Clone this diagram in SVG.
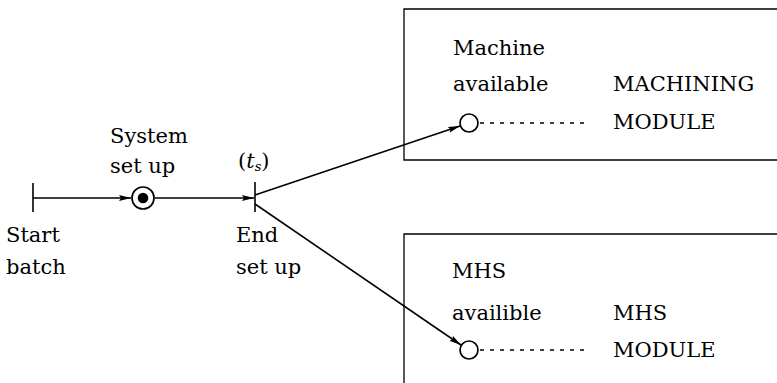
<svg xmlns="http://www.w3.org/2000/svg" width="777" height="383" viewBox="0 0 777 383">
<defs>
<marker id="ah" markerUnits="userSpaceOnUse" markerWidth="13" markerHeight="8" refX="12" refY="4" orient="auto">
<path d="M0,1 L12,4 L0,7 L2,4 Z" fill="#000"/>
</marker>
<style>
text{font-family:"DejaVu Serif","Liberation Serif",serif;font-size:21px;fill:#000}
.ln{stroke:#000;stroke-width:1.6;fill:none}
.bx{stroke:#000;stroke-width:1.3;fill:none}
.dash{stroke:#000;stroke-width:1.3;stroke-dasharray:4 6;fill:none}
.pl{stroke:#000;stroke-width:1.7;fill:#fff}
</style>
</defs>
<g id="machining-module">
<path class="bx" d="M777,9 L404,9 L404,160 L777,160"/>
<text x="453" y="55">Machine</text>
<text x="453" y="91">available</text>
<text x="613" y="91">MACHINING</text>
<text x="613" y="129">MODULE</text>
</g>
<g id="mhs-module">
<path class="bx" d="M777,234 L404,234 L404,383"/>
<text x="452" y="278">MHS</text>
<text x="452" y="320">availible</text>
<text x="613" y="320">MHS</text>
<text x="613" y="357">MODULE</text>
</g>
<g id="connectors">
<line class="ln" x1="33" y1="198" x2="131" y2="198" marker-end="url(#ah)"/>
<line class="ln" x1="155" y1="198" x2="254" y2="198" marker-end="url(#ah)"/>
<line class="ln" x1="255" y1="195" x2="460" y2="126" marker-end="url(#ah)"/>
<line class="ln" x1="255" y1="204" x2="461" y2="345" marker-end="url(#ah)"/>
<line class="dash" x1="480" y1="123" x2="585" y2="123"/>
<line class="dash" x1="480" y1="350" x2="585" y2="350"/>
</g>
<g id="start-batch">
<line class="ln" x1="33" y1="183" x2="33" y2="212"/>
<text x="6" y="242">Start</text>
<text x="6" y="274">batch</text>
</g>
<g id="system-set-up">
<circle class="pl" cx="143" cy="198" r="11"/>
<circle cx="143" cy="198" r="5.3" fill="#000"/>
<text x="110" y="143">System</text>
<text x="110" y="173">set up</text>
</g>
<g id="end-set-up">
<line class="ln" x1="255" y1="182" x2="255" y2="212"/>
<text x="238" y="168">(<tspan font-style="italic">t</tspan><tspan font-size="13" font-style="italic" dy="3">s</tspan><tspan dy="-3">)</tspan></text>
<text x="236" y="242">End</text>
<text x="236" y="274">set up</text>
</g>
<g id="machine-available">
<circle class="pl" cx="469" cy="123" r="9"/>
</g>
<g id="mhs-available">
<circle class="pl" cx="469" cy="350" r="9"/>
</g>
</svg>
